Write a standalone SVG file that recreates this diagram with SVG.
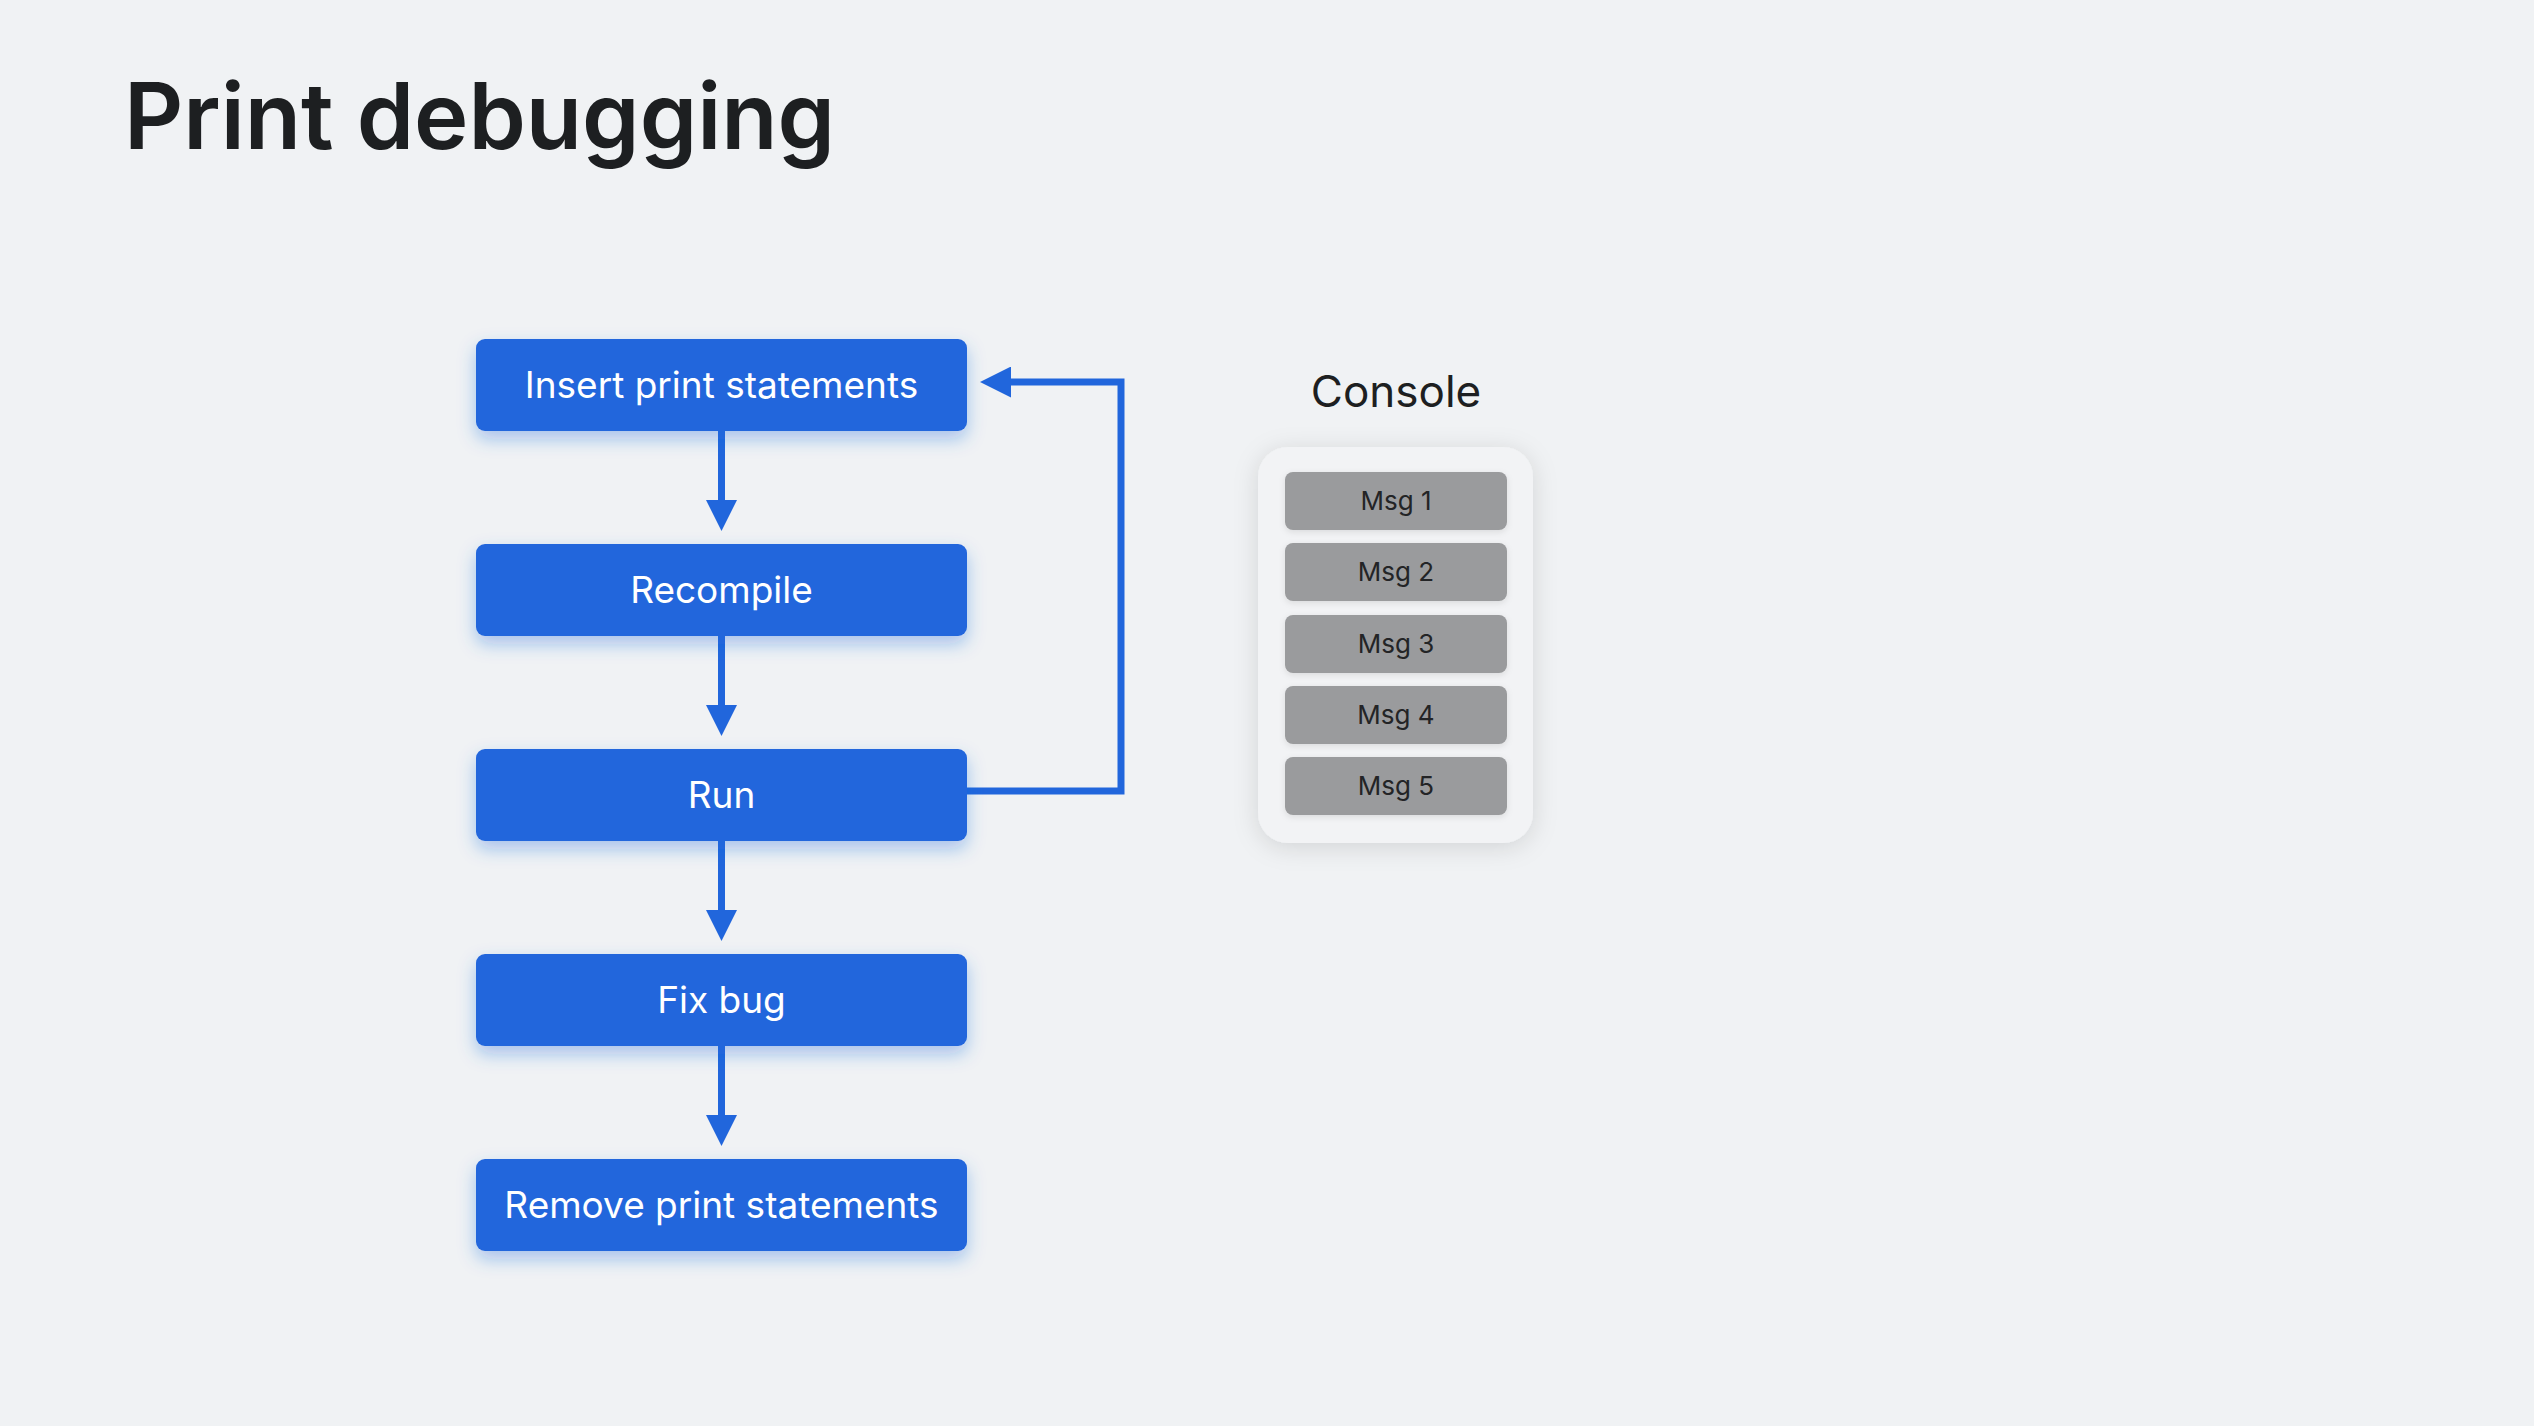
<svg xmlns="http://www.w3.org/2000/svg" width="2534" height="1426" viewBox="0 0 2534 1426">
<defs>
<style>
.bg{fill:#F0F2F4}
.title{font-family:Inter,"Liberation Sans",sans-serif;font-weight:600;font-size:92px;fill:#1D1F21}
.node rect{fill:#2166DC}
.node text{font-family:Inter,"Liberation Sans",sans-serif;font-size:37px;fill:#FFFFFF;text-anchor:middle}
.conn{fill:none;stroke:#2166DC;stroke-width:7}
.ctitle{font-family:Inter,"Liberation Sans",sans-serif;font-size:44px;fill:#1D1F21;text-anchor:middle}
.panel{fill:#F2F3F5}
.msg rect{fill:#9A9B9D}
.msg text{font-family:Inter,"Liberation Sans",sans-serif;font-size:26px;fill:#232426;text-anchor:middle}
</style>
<filter id="blueglow" x="-20%" y="-50%" width="140%" height="220%">
<feDropShadow dx="0" dy="8" stdDeviation="9" flood-color="#2166DC" flood-opacity="0.35"/>
</filter>
<filter id="grayshadow" x="-30%" y="-20%" width="160%" height="140%">
<feDropShadow dx="0" dy="4" stdDeviation="12" flood-color="#000000" flood-opacity="0.13"/>
</filter>
<filter id="msgshadow" x="-10%" y="-30%" width="120%" height="160%">
<feDropShadow dx="0" dy="2" stdDeviation="3" flood-color="#000000" flood-opacity="0.10"/>
</filter>
<marker id="arrow" viewBox="0 0 31 31" refX="11" refY="15.5" markerWidth="31" markerHeight="31" markerUnits="userSpaceOnUse" orient="auto">
<path d="M0,0 L31,15.5 L0,31 Z" fill="#2166DC"/>
</marker>
</defs>
<rect class="bg" x="0" y="0" width="2534" height="1426"/>
<text class="title" x="124" y="149" textLength="711" lengthAdjust="spacingAndGlyphs">Print debugging</text>

<g id="connectors">
<path class="conn" d="M721.5,431 V511" marker-end="url(#arrow)"/>
<path class="conn" d="M721.5,636 V716" marker-end="url(#arrow)"/>
<path class="conn" d="M721.5,841 V921" marker-end="url(#arrow)"/>
<path class="conn" d="M721.5,1046 V1126" marker-end="url(#arrow)"/>
<path class="conn" d="M967,791 H1121 V382 H1000" marker-end="url(#arrow)"/>
</g>

<g id="node-insert" class="node">
<rect x="476" y="339" width="491" height="92" rx="9" filter="url(#blueglow)"/>
<text x="721.5" y="398">Insert print statements</text>
</g>
<g id="node-recompile" class="node">
<rect x="476" y="544" width="491" height="92" rx="9" filter="url(#blueglow)"/>
<text x="721.5" y="603">Recompile</text>
</g>
<g id="node-run" class="node">
<rect x="476" y="749" width="491" height="92" rx="9" filter="url(#blueglow)"/>
<text x="721.5" y="808">Run</text>
</g>
<g id="node-fixbug" class="node">
<rect x="476" y="954" width="491" height="92" rx="9" filter="url(#blueglow)"/>
<text x="721.5" y="1013">Fix bug</text>
</g>
<g id="node-remove" class="node">
<rect x="476" y="1159" width="491" height="92" rx="9" filter="url(#blueglow)"/>
<text x="721.5" y="1218">Remove print statements</text>
</g>

<g id="console">
<text class="ctitle" x="1396" y="407">Console</text>
<rect class="panel" x="1258" y="447" width="275" height="396" rx="30" filter="url(#grayshadow)"/>
<g id="msg1" class="msg"><rect x="1285" y="472" width="222" height="58" rx="8" filter="url(#msgshadow)"/><text x="1396" y="510">Msg 1</text></g>
<g id="msg2" class="msg"><rect x="1285" y="543" width="222" height="58" rx="8" filter="url(#msgshadow)"/><text x="1396" y="581">Msg 2</text></g>
<g id="msg3" class="msg"><rect x="1285" y="615" width="222" height="58" rx="8" filter="url(#msgshadow)"/><text x="1396" y="653">Msg 3</text></g>
<g id="msg4" class="msg"><rect x="1285" y="686" width="222" height="58" rx="8" filter="url(#msgshadow)"/><text x="1396" y="724">Msg 4</text></g>
<g id="msg5" class="msg"><rect x="1285" y="757" width="222" height="58" rx="8" filter="url(#msgshadow)"/><text x="1396" y="795">Msg 5</text></g>
</g>
</svg>
